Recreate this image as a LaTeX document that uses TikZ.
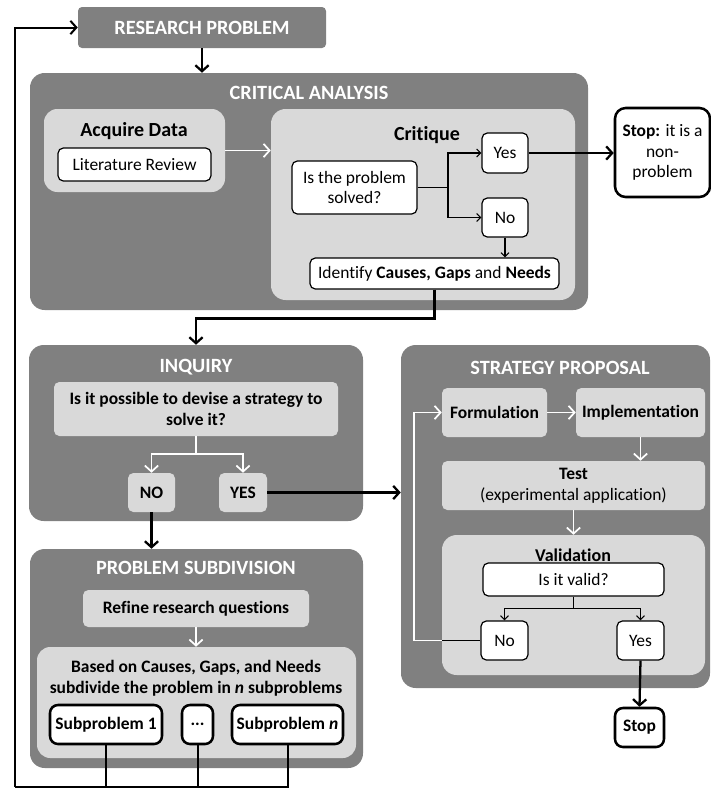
\documentclass[tikz,border=0pt]{standalone}
\usepackage{fontspec}
\setmainfont{Carlito}[Ligatures=NoCommon]
\usetikzlibrary{arrows.meta,fit}
\definecolor{darkbox}{gray}{0.5}
\definecolor{lightbox}{gray}{0.85}
\newcommand\bodyfont{\fontsize{13.1}{15.5}\selectfont}
\newcommand\titlefont{\fontsize{15.2}{17}\selectfont}
\newcommand\subfont{\fontsize{15}{17}\selectfont}

\begin{document}
\begin{tikzpicture}[x=0.75pt,y=-0.75pt,
  bigbox/.style={fill=darkbox, rounded corners=11pt, inner sep=0pt},
  panel/.style={fill=lightbox, rounded corners=10pt, inner sep=0pt},
  gbox/.style={fill=lightbox, rounded corners=4pt, inner sep=0pt},
  wbox/.style={fill=white, draw=black, line width=0.9pt, rounded corners=4pt, inner sep=0pt},
  tbox/.style={fill=white, draw=black, line width=1.9pt, rounded corners=6pt, inner sep=0pt},
  txt/.style={font=\bodyfont, align=center, inner sep=0pt},
  btxt/.style={font=\bodyfont\bfseries, align=center, inner sep=0pt},
  title/.style={text=white, font=\titlefont\bfseries},
  subtitle/.style={font=\subfont\bfseries},
  blk/.style={draw=black, line width=1.7pt, -{Straight Barb[length=4.5pt,width=10pt]}},
  blkline/.style={draw=black, line width=1.7pt},
  thin/.style={draw=black, line width=0.8pt, -{Straight Barb[length=3pt,width=6pt]}},
  wht/.style={draw=white, line width=1.3pt, -{Straight Barb[length=4.5pt,width=10pt]}},
  whtline/.style={draw=white, line width=1.3pt},
]

\useasboundingbox (0,0) rectangle (711,790);

% ---------- research problem ----------
\node[fill=darkbox, rounded corners=3pt, inner sep=0pt, fit={(78,7) (326,48)}] (rp) {};
\node[title] at (rp) {RESEARCH PROBLEM};

% ---------- critical analysis ----------
\node[bigbox, fit={(30,73) (588,310)}] (crit) {};
\node[title] at (309,93) {CRITICAL ANALYSIS};

\node[panel, fit={(44,109) (225,192)}] (acq) {};
\node[subtitle] at (134,131) {Acquire Data};
\node[wbox, fit={(58,148) (211,181)}] (lit) {};
\node[txt] at (lit) {Literature Review};

\node[panel, rounded corners=11pt, fit={(271,109) (575,300)}] (critq) {};
\node[subtitle] at (427,135) {Critique};
\node[wbox, fit={(292,161) (417,214)}] (solved) {};
\node[txt] at (solved) {Is the problem\\solved?};
\node[wbox, fit={(482,133) (528,173)}] (cyes) {};
\node[txt] at (cyes) {Yes};
\node[wbox, fit={(482,198) (528,237)}] (cno) {};
\node[txt] at (cno) {No};
\node[wbox, fit={(310,258) (559,289)}] (ident) {};
\node[txt] at (ident) {Identify \textbf{Causes, Gaps} and \textbf{Needs}};

\node[tbox, rounded corners=8pt, fit={(615,108) (710,197)}] (stopA) {};
\node[txt] at (stopA) {\textbf{Stop:} it is a\\non-\\problem};

% ---------- inquiry ----------
\node[bigbox, fit={(29,345) (363,521)}] (inq) {};
\node[title] at (196,367) {INQUIRY};
\node[gbox, fit={(54,382) (338,436)}] (iq) {};
\node[btxt] at (iq) {Is it possible to devise a strategy to\\solve it?};
\node[gbox, fit={(128,473) (175,512)}] (ino) {};
\node[btxt] at (ino) {NO};
\node[gbox, fit={(219,473) (267,512)}] (iyes) {};
\node[btxt] at (iyes) {YES};

% ---------- problem subdivision ----------
\node[bigbox, fit={(30,549) (363,768)}] (sub) {};
\node[title] at (196,568) {PROBLEM SUBDIVISION};
\node[gbox, fit={(83,590) (309,627)}] (refine) {};
\node[btxt] at (refine) {Refine research questions};
\node[panel, fit={(37,647) (356,758)}] (based) {};
\node[btxt] at (196,678) {Based on Causes, Gaps, and Needs\\subdivide the problem in \textit{n} subproblems};
\node[tbox, fit={(50,705) (162,744)}] (subA) {};
\node[btxt] at (subA) {Subproblem 1};
\node[tbox, fit={(182,705) (213,744)}] (subD) {};
\node[btxt] at (subD) {...};
\node[tbox, fit={(232,705) (343,744)}] (subN) {};
\node[btxt] at (subN) {Subproblem \textit{n}};

% ---------- strategy proposal ----------
\node[bigbox, fit={(401,345) (710,688)}] (strat) {};
\node[title] at (560,368) {STRATEGY PROPOSAL};
\node[gbox, fit={(442,388) (547,437)}] (form) {};
\node[btxt] at (form) {Formulation};
\node[gbox, fit={(576,388) (705,437)}] (impl) {};
\node[btxt] at (impl) {Implementation};
\node[gbox, fit={(442,461) (705,510)}] (test) {};
\node[txt] at (test) {\textbf{Test}\\(experimental application)};
\node[panel, rounded corners=11pt, fit={(442,535) (705,675)}] (valid) {};
\node[btxt, font=\fontsize{13.5}{15.5}\selectfont\bfseries] at (573,555) {Validation};
\node[wbox, fit={(483,563) (664,596)}] (vq) {};
\node[txt] at (vq) {Is it valid?};
\node[wbox, fit={(481,621) (528,660)}] (vno) {};
\node[txt] at (vno) {No};
\node[wbox, fit={(617,621) (664,660)}] (vyes) {};
\node[txt] at (vyes) {Yes};
\node[tbox, fit={(615,708) (664,747)}] (stopB) {};
\node[btxt] at (stopB) {Stop};

% ---------- connectors ----------
\draw[blk] (rp.south) -- (rp.south |- crit.north);
\draw[wht] (acq.east) -- (critq.west |- acq.east);

\draw[blkline, line width=1.3pt] (solved.east) -- (448,187.5) coordinate (cb);
\draw[thin] (cb) |- (cyes.west);
\draw[thin] (cb) |- (cno.west);
\draw[thin] (cno.south) -- (cno.south |- ident.north);
\draw[blk] (cyes.east) -- (stopA.west |- cyes.east);
\draw[blk] (ident.south) -- ++(0,29) -| (inq.north);

\draw[whtline] (iq.south) -- ++(0,18) coordinate (ib);
\draw[wht] (ib) -| (ino.north);
\draw[wht] (ib) -| (iyes.north);
\draw[blk] (iyes.east) -- (strat.west |- iyes.east);
\draw[blk] (ino.south) -- (ino.south |- sub.north);

\draw[wht] (refine.south) -- (refine.south |- based.north);

\draw[wht] (form.east) -- (impl.west);
\draw[wht] (impl.south) -- (impl.south |- test.north);
\draw[wht] (test.south) -- (test.south |- valid.north);
\draw[blkline, line width=1pt] (vq.south) -- ++(0,12) coordinate (vb);
\draw[thin] (vb) -| (vno.north);
\draw[thin] (vb) -| (vyes.north);
\coordinate (loopx) at (414,0);
\draw[wht] (vno.west) -- (loopx |- vno.west) |- (form.west);
\draw[draw=black, line width=1.2pt] (vno.west) -- (valid.west |- vno.west);
\draw[blk] (vyes.south) -- (stopB.north);

% feedback from the subproblems to the research problem
\coordinate (fb) at (15,787);
\draw[blkline, line width=1.5pt] (subN.south) -- (subN.south |- fb) -- (fb);
\draw[blkline, line width=1.5pt] (subA.south) -- (subA.south |- fb);
\draw[blkline, line width=1.5pt] (subD.south) -- (subD.south |- fb);
\draw[blk, line width=1.5pt] (fb) -- (fb |- rp.west) -- (rp.west);
\end{tikzpicture}
\end{document}
